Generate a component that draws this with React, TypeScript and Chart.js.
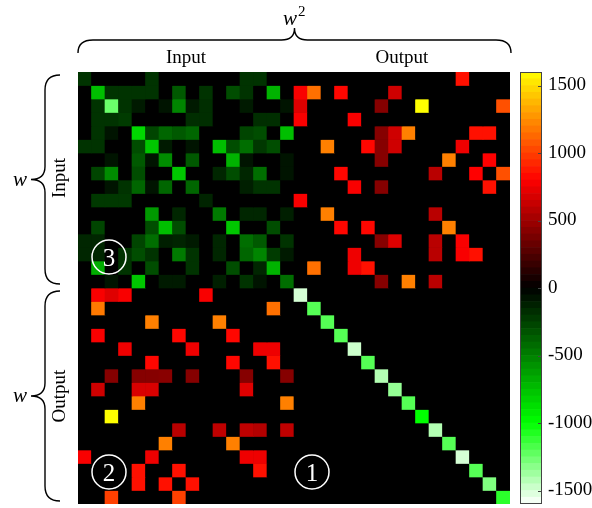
import { useEffect, useRef } from "react";
import { Chart, registerables } from "chart.js";

Chart.register(...registerables);

const SERIF = "'Liberation Serif', 'Times New Roman', serif";

// Weight blocks (rows = receiving unit, cols = sending unit)
const inputInput: number[][] = [
  [-200, 0, 0, 0, 0, -200, 0, 0, 0, 0, 0, 0, -200, -200, 0, 0],
  [0, -750, -200, -200, -200, -200, 0, -350, 0, -200, 0, -300, -200, 0, -700, 0],
  [0, -200, -1250, -200, -100, 0, -80, -520, -100, -180, 0, 0, -100, 0, 0, -80],
  [0, -200, -200, -230, 0, 0, 0, 0, -180, -180, 0, 0, 0, -180, -180, 0],
  [0, -200, -80, 0, -850, -270, -400, -350, -400, 0, 0, 0, -270, -300, 0, -750],
  [-200, -200, 0, 0, -300, -780, -100, 0, -80, 0, -750, -300, -430, -220, -300, 0],
  [0, 0, -80, 0, -350, -80, -550, 0, -350, 0, 0, -700, -80, 0, 0, -80],
  [0, -270, -550, 0, -300, 0, 0, -780, 0, 0, -150, -300, -150, -430, 0, -80],
  [0, 0, -80, -200, -400, -80, -400, 0, -400, 0, 0, 0, -120, -200, -200, 0],
  [0, -220, -220, -220, 0, 0, 0, 0, 0, -140, 0, 0, 0, 0, 0, 0],
  [0, 0, 0, 0, 0, -600, 0, -150, 0, 0, -480, 0, -150, -150, 0, -120],
  [0, -270, 0, 0, 0, -300, -750, -300, 0, 0, 0, -780, 0, 0, -300, 0],
  [-150, -150, 0, 0, -270, -430, -120, -140, -100, 0, -150, 0, -430, -350, 0, -200],
  [-150, -150, 0, -200, -300, -200, 0, -480, -200, 0, -150, 0, -400, -520, -230, -100],
  [0, -680, 0, -200, 0, -300, 0, 0, -200, 0, 0, -300, 0, -150, -700, 0],
  [0, 0, -80, 0, -780, 0, -100, -100, 0, 0, -120, 0, -200, -80, 0, -430],
];

const inputOutput: number[][] = [
  [0, 0, 0, 0, 0, 0, 0, 0, 0, 0, 0, 0, 850, 0, 0, 0],
  [780, 1150, 0, 820, 0, 0, 0, 650, 0, 0, 0, 0, 0, 0, 0, 0],
  [700, 0, 0, 0, 0, 0, 420, 0, 0, 1600, 0, 0, 0, 0, 0, 1050],
  [780, 0, 0, 0, 780, 0, 0, 0, 0, 0, 0, 0, 0, 0, 0, 0],
  [0, 0, 0, 0, 0, 0, 420, 650, 1200, 0, 0, 0, 0, 850, 850, 0],
  [0, 0, 1200, 0, 0, 820, 420, 650, 0, 0, 0, 0, 750, 0, 0, 0],
  [0, 0, 0, 0, 0, 0, 420, 0, 0, 0, 0, 1200, 0, 0, 800, 0],
  [0, 0, 0, 820, 0, 0, 0, 0, 0, 0, 580, 0, 0, 800, 0, 1050],
  [0, 0, 0, 0, 780, 0, 420, 0, 0, 0, 0, 0, 0, 0, 850, 0],
  [780, 0, 0, 0, 0, 0, 0, 0, 0, 0, 0, 0, 0, 0, 0, 0],
  [0, 0, 1200, 0, 0, 0, 0, 0, 0, 0, 580, 0, 0, 0, 0, 0],
  [0, 0, 0, 820, 0, 820, 0, 0, 0, 0, 0, 1200, 0, 0, 0, 0],
  [0, 0, 0, 0, 0, 0, 420, 700, 0, 0, 580, 0, 780, 0, 0, 0],
  [0, 0, 0, 0, 750, 0, 0, 0, 0, 0, 580, 0, 780, 850, 0, 0],
  [0, 1150, 0, 0, 750, 850, 0, 0, 0, 0, 0, 0, 0, 0, 0, 0],
  [0, 0, 0, 0, 0, 0, 420, 0, 1200, 0, 580, 0, 0, 0, 0, 0],
];

const outputInput: number[][] = [
  [0, 780, 700, 780, 0, 0, 0, 0, 0, 780, 0, 0, 0, 0, 0, 0],
  [0, 1180, 0, 0, 0, 0, 0, 0, 0, 0, 0, 0, 0, 0, 1150, 0],
  [0, 0, 0, 0, 0, 1200, 0, 0, 0, 0, 1200, 0, 0, 0, 0, 0],
  [0, 780, 0, 0, 0, 0, 0, 820, 0, 0, 0, 820, 0, 0, 0, 0],
  [0, 0, 0, 750, 0, 0, 0, 0, 750, 0, 0, 0, 0, 750, 750, 0],
  [0, 0, 0, 0, 0, 820, 0, 0, 0, 0, 0, 820, 0, 0, 850, 0],
  [0, 0, 420, 0, 420, 420, 430, 0, 420, 0, 0, 0, 420, 0, 0, 420],
  [0, 650, 0, 0, 680, 680, 0, 0, 0, 0, 0, 0, 700, 0, 0, 0],
  [0, 0, 0, 0, 1200, 0, 0, 0, 0, 0, 0, 0, 0, 0, 0, 1200],
  [0, 0, 1600, 0, 0, 0, 0, 0, 0, 0, 0, 0, 0, 0, 0, 0],
  [0, 0, 0, 0, 0, 0, 0, 580, 0, 0, 600, 0, 600, 560, 0, 600],
  [0, 0, 0, 0, 0, 0, 1200, 0, 0, 0, 0, 1200, 0, 0, 0, 0],
  [780, 0, 0, 0, 0, 750, 0, 0, 0, 0, 0, 0, 750, 750, 0, 0],
  [0, 0, 0, 0, 850, 0, 0, 850, 0, 0, 0, 0, 0, 850, 0, 0],
  [0, 0, 0, 0, 850, 0, 850, 0, 850, 0, 0, 0, 0, 0, 0, 0],
  [0, 0, 1000, 0, 0, 0, 0, 1000, 0, 0, 0, 0, 0, 0, 0, 0],
];

// Output→Output block: only self-connections (diagonal)
const outputDiagonal: number[] = [
  -1500, -1200, -1200, -1200, -1480, -1200, -1420, -1350,
  -1200, -1000, -1420, -1200, -1500, -1200, -1300, -1100,
];

const groupLabels = ["Input", "Output"];
const colorbarTicks = [-1500, -1000, -500, 0, 500, 1000, 1500];
const colorMin = -1600;
const colorMax = 1600;
const colorBandStep = 50;

function valueColor(v: number): string {
  if (v >= 0) {
    if (v <= 800) return `rgb(${Math.round((255 * v) / 800)},0,0)`;
    const s = Math.min(1, (v - 800) / 800);
    return `rgb(255,${Math.round(255 * s)},0)`;
  }
  const a = -v;
  if (a <= 1000) return `rgb(0,${Math.round((255 * a) / 1000)},0)`;
  const s = Math.min(1, (a - 1000) / 600);
  const c = Math.round(255 * s);
  return `rgb(${c},255,${c})`;
}

function buildMatrix(): number[][] {
  const n = outputDiagonal.length;
  const rows: number[][] = [];
  for (let r = 0; r < n; r++) rows.push([...inputInput[r], ...inputOutput[r]]);
  for (let r = 0; r < n; r++) {
    const oo = outputDiagonal.map((d, c) => (c === r ? d : 0));
    rows.push([...outputInput[r], ...oo]);
  }
  return rows;
}

function hBrace(ctx: CanvasRenderingContext2D, x1: number, x2: number, yEnd: number, yArm: number, yTip: number) {
  const xm = (x1 + x2) / 2;
  const r1 = 15;
  const r2 = 13;
  ctx.beginPath();
  ctx.moveTo(x1, yEnd);
  ctx.quadraticCurveTo(x1, yArm, x1 + r1, yArm);
  ctx.lineTo(xm - r2, yArm);
  ctx.quadraticCurveTo(xm, yArm, xm, yTip);
  ctx.quadraticCurveTo(xm, yArm, xm + r2, yArm);
  ctx.lineTo(x2 - r1, yArm);
  ctx.quadraticCurveTo(x2, yArm, x2, yEnd);
  ctx.stroke();
}

function vBrace(ctx: CanvasRenderingContext2D, y1: number, y2: number, xEnd: number, xArm: number, xTip: number) {
  const ym = (y1 + y2) / 2;
  const r1 = 15;
  const r2 = 13;
  ctx.beginPath();
  ctx.moveTo(xEnd, y1);
  ctx.quadraticCurveTo(xArm, y1, xArm, y1 + r1);
  ctx.lineTo(xArm, ym - r2);
  ctx.quadraticCurveTo(xArm, ym, xTip, ym);
  ctx.quadraticCurveTo(xArm, ym, xArm, ym + r2);
  ctx.lineTo(xArm, y2 - r1);
  ctx.quadraticCurveTo(xArm, y2, xEnd, y2);
  ctx.stroke();
}

function circled(ctx: CanvasRenderingContext2D, label: string, cx: number, cy: number) {
  ctx.save();
  ctx.strokeStyle = "#fff";
  ctx.lineWidth = 1.5;
  ctx.beginPath();
  ctx.arc(cx, cy, 17, 0, Math.PI * 2);
  ctx.stroke();
  ctx.fillStyle = "#fff";
  ctx.font = `25px ${SERIF}`;
  ctx.textAlign = "center";
  ctx.textBaseline = "alphabetic";
  ctx.fillText(label, cx, cy + 8.5);
  ctx.restore();
}

const heatmapDecor = {
  id: "heatmapDecor",
  beforeDatasetsDraw(chart: any) {
    const { ctx, chartArea: a } = chart;
    ctx.save();
    ctx.fillStyle = "#000";
    ctx.fillRect(a.left, a.top, a.right - a.left, a.bottom - a.top);
    ctx.restore();
  },
  afterDraw(chart: any) {
    const { ctx, chartArea: a } = chart;
    const midX = (a.left + a.right) / 2;
    const midY = (a.top + a.bottom) / 2;
    ctx.save();
    ctx.strokeStyle = "#000";
    ctx.fillStyle = "#000";
    ctx.lineWidth = 1.4;
    // top brace
    hBrace(ctx, a.left, a.right + 1, 53, 40, 28);
    // left braces
    vBrace(ctx, a.top + 3, midY - 4, 60, 45, 31);
    vBrace(ctx, midY + 3, a.bottom - 3, 60, 45, 31);

    // w^2
    ctx.textBaseline = "alphabetic";
    ctx.textAlign = "left";
    ctx.font = `italic 21px ${SERIF}`;
    ctx.fillText("w", 283, 25);
    ctx.font = `15px ${SERIF}`;
    ctx.fillText("2", 298, 16);

    // side w labels
    ctx.font = `italic 21px ${SERIF}`;
    ctx.fillText("w", 13, (a.top + midY) / 2 + 6);
    ctx.fillText("w", 13, (midY + a.bottom) / 2 + 6);

    // group labels on top
    ctx.font = `19px ${SERIF}`;
    ctx.textAlign = "center";
    ctx.fillText(groupLabels[0], (a.left + midX) / 2, 63);
    ctx.fillText(groupLabels[1], (midX + a.right) / 2, 63);

    // group labels on the left (rotated)
    const rows = [(a.top + midY) / 2 - 2, (midY + a.bottom) / 2];
    groupLabels.forEach((lbl, i) => {
      ctx.save();
      ctx.translate(65, rows[i]);
      ctx.rotate(-Math.PI / 2);
      ctx.fillText(lbl, 0, 0);
      ctx.restore();
    });
    ctx.restore();

    circled(ctx, "3", 109, 257);
    circled(ctx, "2", 109, 472);
    circled(ctx, "1", 312, 472);
  },
};

const colorbarDecor = {
  id: "colorbarDecor",
  afterDraw(chart: any) {
    const { ctx, chartArea: a } = chart;
    const y = chart.scales.y;
    ctx.save();
    ctx.strokeStyle = "#444";
    ctx.lineWidth = 1;
    ctx.strokeRect(a.left + 0.5, a.top + 0.5, a.right - a.left - 1, a.bottom - a.top - 1);
    colorbarTicks.forEach((v) => {
      const py = Math.round(y.getPixelForValue(v)) + 0.5;
      ctx.beginPath();
      ctx.moveTo(a.right - 4, py);
      ctx.lineTo(a.right, py);
      ctx.stroke();
    });
    ctx.restore();
  },
};

export default function App() {
  const heatRef = useRef<HTMLCanvasElement>(null);
  const barRef = useRef<HTMLCanvasElement>(null);

  useEffect(() => {
    const matrix = buildMatrix();
    const n = matrix.length;
    const colLabels = matrix[0].map((_, c) => (c < n / 2 ? `in ${c + 1}` : `out ${c - n / 2 + 1}`));

    const heat = new Chart(heatRef.current!, {
      type: "bar",
      data: {
        labels: colLabels,
        datasets: matrix.map((row, r) => ({
          label: r < n / 2 ? `in ${r + 1}` : `out ${r - n / 2 + 1}`,
          data: row.map(() => 1),
          backgroundColor: row.map((v) => valueColor(v)),
          borderWidth: 0,
          barPercentage: 1,
          categoryPercentage: 1,
        })),
      },
      options: {
        animation: false,
        responsive: false,
        devicePixelRatio: 1,
        layout: { padding: { left: 78, right: 82, top: 72, bottom: 4 } },
        scales: {
          x: { stacked: true, display: false },
          y: { stacked: true, display: false, min: 0, max: n, reverse: true },
        },
        plugins: { legend: { display: false }, tooltip: { enabled: false } },
      },
      plugins: [heatmapDecor],
    });

    const bands: [number, number][] = [];
    for (let lo = colorMin; lo < colorMax; lo += colorBandStep) bands.push([lo, lo + colorBandStep]);

    const cb = new Chart(barRef.current!, {
      type: "bar",
      data: {
        labels: ["colour"],
        datasets: bands.map((b) => ({
          data: [b],
          backgroundColor: valueColor((b[0] + b[1]) / 2),
          borderWidth: 0,
          grouped: false,
          barPercentage: 1,
          categoryPercentage: 1,
        })) as any,
      },
      options: {
        animation: false,
        responsive: false,
        devicePixelRatio: 1,
        layout: { padding: { left: 15, right: 0, top: 72, bottom: 4 } },
        scales: {
          x: { display: false },
          y: {
            position: "right",
            min: colorMin,
            max: colorMax,
            grid: { display: false, drawTicks: false },
            border: { display: false },
            afterFit: (s: any) => {
              s.width = 50;
              s.paddingTop = 0;
              s.paddingBottom = 0;
            },
            afterBuildTicks: (s: any) => {
              s.ticks = colorbarTicks.map((v) => ({ value: v }));
            },
            ticks: {
              padding: 6,
              color: "#000",
              font: { family: SERIF, size: 19 },
              callback: (v: any) => String(v),
            },
          },
        },
        plugins: { legend: { display: false }, tooltip: { enabled: false } },
      },
      plugins: [colorbarDecor],
    });

    return () => {
      heat.destroy();
      cb.destroy();
    };
  }, []);

  return (
    <div style={{ position: "absolute", left: 0, top: 0, width: 592, height: 508, background: "#fff" }}>
      <canvas ref={heatRef} width={592} height={508} style={{ position: "absolute", left: 0, top: 0 }} />
      <canvas ref={barRef} width={87} height={508} style={{ position: "absolute", left: 505, top: 0 }} />
    </div>
  );
}
